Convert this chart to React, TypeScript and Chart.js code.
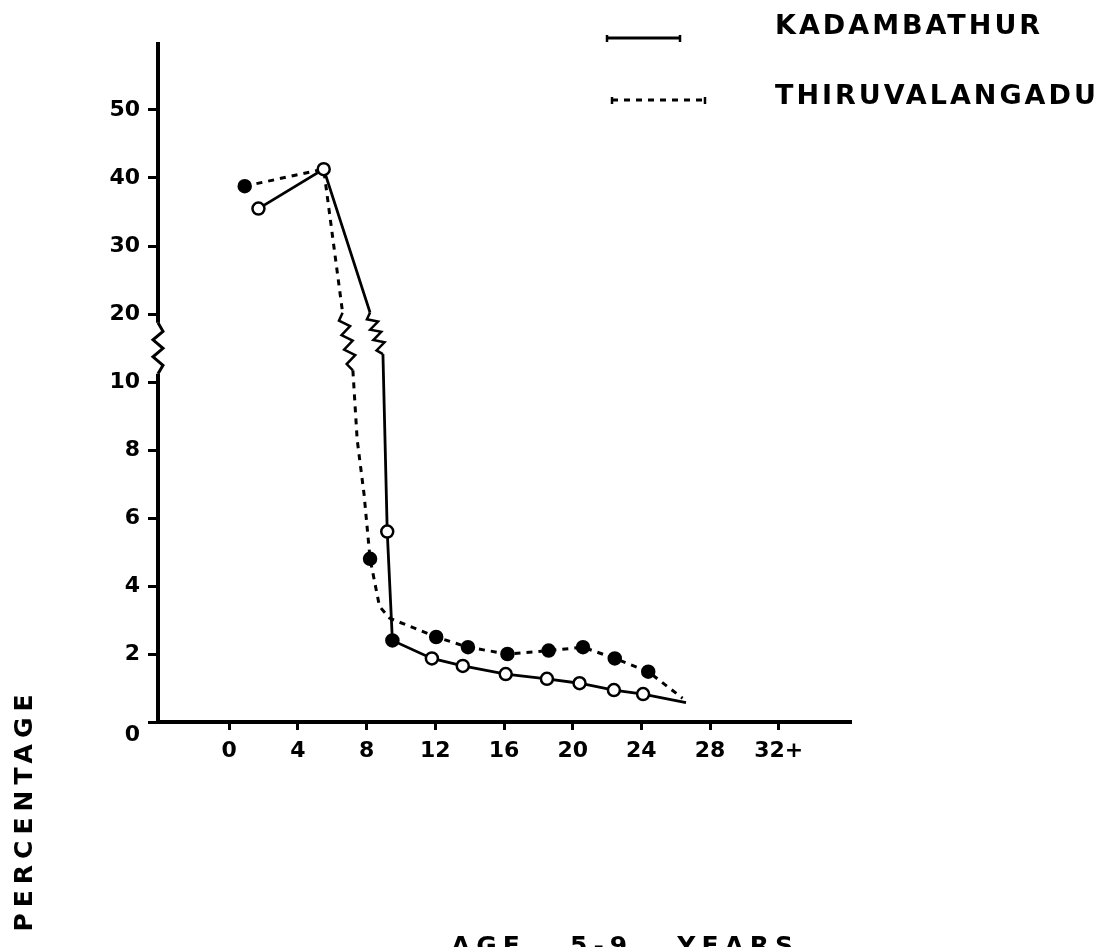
import React, { useEffect, useRef } from "react";
import { Chart, registerables } from "chart.js";

Chart.register(...registerables);

// ---------- data ----------
const kadambathurAges = [1.7, 5.5, 8.2, 8.95, 9.2, 9.5, 11.8, 13.6, 16.1, 18.5, 20.4, 22.4, 24.1, 26.6];
const kadambathurPct = [35.5, 41.3, 20.2, 14.1, 5.6, 2.4, 1.87, 1.65, 1.41, 1.27, 1.14, 0.94, 0.82, 0.57];
const kadambathurMarkers = ["open", "open", "none", "none", "open", "filled", "open", "open", "open", "open", "open", "open", "open", "none"];
const kadambathurBreaks = [2];

const thiruAges = [0.9, 5.5, 6.6, 7.2, 7.45, 7.85, 8.2, 8.75, 9.35, 12.05, 13.9, 16.2, 18.6, 20.6, 22.45, 24.4, 26.4];
const thiruPct = [38.8, 41.3, 20.2, 11.7, 8.3, 6.7, 4.8, 3.4, 3.05, 2.5, 2.2, 2.0, 2.1, 2.2, 1.87, 1.48, 0.7];
const thiruMarkers = ["filled", "none", "none", "none", "none", "none", "filled", "none", "none", "filled", "filled", "filled", "filled", "filled", "filled", "filled", "none"];
const thiruBreaks = [2];

const seriesLabels = ["KADAMBATHUR", "THIRUVALANGADU"];

const xTickValues = [0, 4, 8, 12, 16, 20, 24, 28, 32];
const xTickLabels = ["0", "4", "8", "12", "16", "20", "24", "28", "32+"];
const yTickValues = [0, 2, 4, 6, 8, 10, 20, 30, 40, 50];

const xTitle = "AGE   5-9   YEARS";
const yTitle = "PERCENTAGE";

// broken y axis: 0-10 full scale, above 10 compressed 5x
const BREAK_AT = 10;
const COMPRESS = 5;
const toAxis = (v: number) => (v <= BREAK_AT ? v : BREAK_AT + (v - BREAK_AT) / COMPRESS);
const yAxisTopValue = 60;
const yAxisBreakFrom = 11.2;
const yAxisBreakTo = 18.7;

const X_MIN = -4.15;
const X_MAX = 36.15;

const FONT = "'DejaVu Sans', sans-serif";

function zigzag(ctx: CanvasRenderingContext2D, x0: number, y0: number, x1: number, y1: number, teeth: number, amp: number) {
  const dx = x1 - x0;
  const dy = y1 - y0;
  const len = Math.hypot(dx, dy) || 1;
  const nx = -dy / len;
  const ny = dx / len;
  ctx.beginPath();
  ctx.moveTo(x0, y0);
  const n = teeth * 2;
  for (let i = 1; i < n; i++) {
    const t = i / n;
    const s = i % 2 === 1 ? amp : -amp;
    ctx.lineTo(x0 + dx * t + nx * s, y0 + dy * t + ny * s);
  }
  ctx.lineTo(x1, y1);
  ctx.stroke();
}

const breakPlugin = {
  id: "breaks",
  afterDatasetsDraw(chart: any) {
    const ctx = chart.ctx as CanvasRenderingContext2D;
    ctx.save();
    ctx.strokeStyle = "#000";
    ctx.lineWidth = 2.5;
    ctx.setLineDash([]);
    chart.data.datasets.forEach((ds: any, i: number) => {
      const meta = chart.getDatasetMeta(i);
      (ds.breaks || []).forEach((b: number) => {
        const p0 = meta.data[b];
        const p1 = meta.data[b + 1];
        if (p0 && p1) zigzag(ctx, p0.x, p0.y, p1.x, p1.y, 4, 5);
      });
    });
    // y axis with break
    const y = chart.scales.y;
    const x0 = chart.chartArea.left;
    const yb = y.getPixelForValue(0);
    const yTop = y.getPixelForValue(toAxis(yAxisTopValue));
    const yLow = y.getPixelForValue(toAxis(yAxisBreakFrom));
    const yHigh = y.getPixelForValue(toAxis(yAxisBreakTo));
    ctx.lineWidth = 4;
    ctx.beginPath();
    ctx.moveTo(x0, yb + 2);
    ctx.lineTo(x0, yLow);
    ctx.stroke();
    ctx.lineWidth = 3;
    zigzag(ctx, x0, yLow, x0, yHigh, 3, 5);
    ctx.lineWidth = 4;
    ctx.beginPath();
    ctx.moveTo(x0, yHigh);
    ctx.lineTo(x0, yTop);
    ctx.stroke();
    ctx.restore();
  },
};

const textPlugin = {
  id: "texts",
  afterDraw(chart: any) {
    const ctx = chart.ctx as CanvasRenderingContext2D;
    ctx.save();
    ctx.fillStyle = "#000";
    ctx.strokeStyle = "#000";
    // legend
    const legendRows = [
      { x0: 607, x1: 680, y: 38, ty: 27 },
      { x0: 612, x1: 705, y: 100, ty: 97 },
    ];
    chart.data.datasets.forEach((ds: any, i: number) => {
      const r = legendRows[i];
      ctx.lineWidth = 3;
      ctx.setLineDash(ds.borderDash || []);
      ctx.beginPath();
      ctx.moveTo(r.x0, r.y);
      ctx.lineTo(r.x1, r.y);
      ctx.stroke();
      ctx.setLineDash([]);
      ctx.lineWidth = 2.5;
      ctx.beginPath();
      ctx.moveTo(r.x0, r.y - 3);
      ctx.lineTo(r.x0, r.y + 4);
      ctx.moveTo(r.x1, r.y - 3);
      ctx.lineTo(r.x1, r.y + 4);
      ctx.stroke();
      ctx.font = `bold 27px ${FONT}`;
      (ctx as any).letterSpacing = "3px";
      ctx.textAlign = "left";
      ctx.textBaseline = "middle";
      ctx.fillText(ds.label, 775, r.ty);
    });
    // axis titles
    ctx.font = `bold 25px ${FONT}`;
    (ctx as any).letterSpacing = "6px";
    ctx.textAlign = "center";
    ctx.textBaseline = "alphabetic";
    ctx.fillText(xTitle, 625, 954);
    ctx.translate(32, 810);
    ctx.rotate(-Math.PI / 2);
    ctx.textBaseline = "alphabetic";
    ctx.fillText(yTitle, 0, 0);
    ctx.restore();
  },
};

function markerRadius(m: string) {
  return m === "none" ? 0 : 6;
}
function markerFill(m: string) {
  return m === "filled" ? "#000" : "#fff";
}

export default function App() {
  const ref = useRef<HTMLCanvasElement | null>(null);
  useEffect(() => {
    if (!ref.current) return;
    const kadData = kadambathurAges.map((a, i) => ({ x: a, y: toAxis(kadambathurPct[i]) }));
    const thiruData = thiruAges.map((a, i) => ({ x: a, y: toAxis(thiruPct[i]) }));
    const chart = new Chart(ref.current, {
      type: "line",
      data: {
        datasets: [
          {
            label: seriesLabels[0],
            data: kadData,
            borderColor: "#000",
            borderWidth: 2.8,
            pointRadius: kadambathurMarkers.map(markerRadius),
            pointBackgroundColor: kadambathurMarkers.map(markerFill),
            pointBorderColor: "#000",
            pointBorderWidth: 2.5,
            tension: 0,
            segment: {
              borderColor: (c: any) => (kadambathurBreaks.includes(c.p0DataIndex) ? "rgba(0,0,0,0)" : undefined),
            },
            breaks: kadambathurBreaks,
            order: 0,
          } as any,
          {
            label: seriesLabels[1],
            data: thiruData,
            borderColor: "#000",
            borderWidth: 3,
            borderDash: [6, 6],
            pointRadius: thiruMarkers.map(markerRadius),
            pointBackgroundColor: thiruMarkers.map(markerFill),
            pointBorderColor: "#000",
            pointBorderWidth: 2.5,
            tension: 0,
            segment: {
              borderColor: (c: any) => (thiruBreaks.includes(c.p0DataIndex) ? "rgba(0,0,0,0)" : undefined),
            },
            breaks: thiruBreaks,
            order: 1,
          } as any,
        ],
      },
      options: {
        animation: false,
        responsive: false,
        layout: { padding: { top: 42, right: 259, left: 0, bottom: 0 } },
        plugins: { legend: { display: false }, tooltip: { enabled: false } },
        scales: {
          x: {
            type: "linear",
            min: X_MIN,
            max: X_MAX,
            afterFit: (s: any) => {
              s.height = 225;
            },
            afterBuildTicks: (s: any) => {
              s.ticks = xTickValues.map((v) => ({ value: v }));
            },
            border: { display: true, color: "#000", width: 4 },
            grid: { display: true, drawOnChartArea: false, drawTicks: true, tickLength: 8, color: "#000", lineWidth: 3 },
            ticks: {
              autoSkip: false,
              maxRotation: 0,
              padding: 8,
              color: "#000",
              font: { family: FONT, size: 22, weight: "bold" },
              callback: (v: any) => {
                const i = xTickValues.indexOf(Number(v));
                return i >= 0 ? xTickLabels[i] : "";
              },
            },
          },
          y: {
            type: "linear",
            min: 0,
            max: toAxis(yAxisTopValue),
            afterFit: (s: any) => {
              s.width = 158;
            },
            afterBuildTicks: (s: any) => {
              s.ticks = yTickValues.map((v) => ({ value: toAxis(v) }));
            },
            border: { display: false },
            grid: { display: true, drawOnChartArea: false, drawTicks: true, tickLength: 10, color: "#000", lineWidth: 3 },
            ticks: {
              autoSkip: false,
              padding: 8,
              color: "#000",
              font: { family: FONT, size: 22, weight: "bold" },
              callback: (v: any) => {
                const i = yTickValues.findIndex((t) => Math.abs(toAxis(t) - Number(v)) < 1e-6);
                if (i < 0) return "";
                // the zero label sits just below the x axis in the reference
                return yTickValues[i] === 0 ? ["", "0"] : String(yTickValues[i]);
              },
            },
          },
        },
      } as any,
      plugins: [breakPlugin, textPlugin],
    });
    return () => chart.destroy();
  }, []);
  return (
    <div style={{ position: "absolute", left: 0, top: 0, width: 1109, height: 947, background: "#fff" }}>
      <canvas ref={ref} width={1109} height={947} />
    </div>
  );
}
